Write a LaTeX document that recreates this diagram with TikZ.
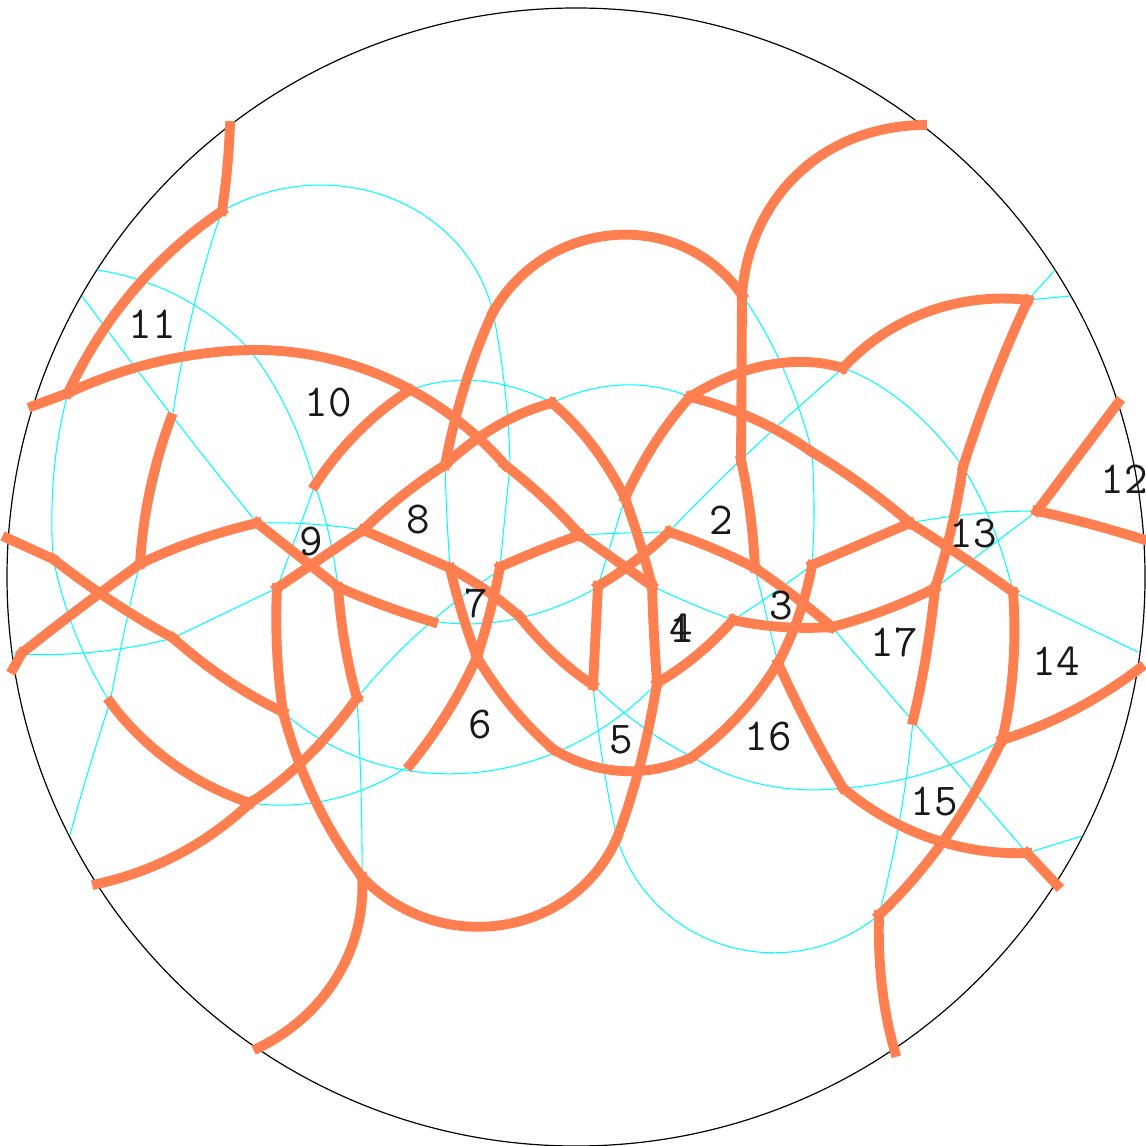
\documentclass[tikz,border=0pt]{standalone}
\usepackage{xcolor}
\usetikzlibrary{calc}
\definecolor{figarc}{RGB}{0,255,255}
\definecolor{figedge}{RGB}{255,127,80}
\tikzset{
  rim/.style    ={draw=black, line width=0.34pt},
  arc/.style    ={draw=figarc, line width=0.3pt},
  bound/.style  ={draw=figedge, line width=2.8pt, line cap=rect},
  cellnum/.style={font=\fontsize{13pt}{14pt}\ttfamily, text=black!90, inner sep=0pt},
}
% circular arc: style, start, point halfway along, end
\newcommand{\seg}[4]{
  \path #2 coordinate (sa) #3 coordinate (sm) #4 coordinate (sb);
  \coordinate (sd) at ($(sa)!.5!(sb)$);
  \draw[#1] let \p1=($(sm)-(sd)$), \p2=($(sb)-(sd)$),
    \n1={veclen(\x1,\y1)/veclen(\x2,\y2)}, \n2={2/3*(1-\n1*\n1)} in
    (sa) .. controls ($(sa)+\n2*(sd)-\n2*(sa)+1.3333*(sm)-1.3333*(sd)$)
    and ($(sb)+\n2*(sd)-\n2*(sb)+1.3333*(sm)-1.3333*(sd)$) .. (sb);
}

\begin{document}
\begin{tikzpicture}[x=0.01cm,y=-0.01cm]
  \useasboundingbox (0,0) rectangle (1146,1146);
  \draw[rim] (576,577) circle[radius=569];
  % thin arcs
  \seg{arc}{(222,211)}{(388,197)}{(493,312)}
  \seg{arc}{(493,312)}{(505,390)}{(510,465)}
  \draw[arc] (510,465) -- (500,567);
  \seg{arc}{(222,211)}{(193,310)}{(172,420)}
  \seg{arc}{(172,420)}{(155,490)}{(140,562)}
  \seg{arc}{(140,562)}{(124,633)}{(110,702)}
  \seg{arc}{(110,702)}{(88,772)}{(70,835)}
  \seg{arc}{(97,270)}{(180,297)}{(250,350)}
  \seg{arc}{(250,350)}{(288,412)}{(315,485)}
  \seg{arc}{(315,485)}{(329,535)}{(338,587)}
  \seg{arc}{(82,296)}{(170,413)}{(257,523)}
  \seg{arc}{(68,393)}{(54,472)}{(53,558)}
  \seg{arc}{(53,558)}{(76,635)}{(110,702)}
  \seg{arc}{(257,523)}{(310,524)}{(363,530)}
  \draw[arc] (315,485) -- (277,588);
  \draw[arc] (277,588) -- (173,638);
  \seg{arc}{(173,638)}{(95,652)}{(12,654)}
  \seg{arc}{(283,712)}{(470,773)}{(657,683)}
  \seg{arc}{(250,803)}{(333,799)}{(410,765)}
  \seg{arc}{(357,698)}{(361,790)}{(362,877)}
  \seg{arc}{(357,698)}{(424,628)}{(500,570)}
  \seg{arc}{(433,621)}{(515,619)}{(598,587)}
  \seg{arc}{(652,586)}{(692,604)}{(733,620)}
  \seg{arc}{(733,620)}{(772,594)}{(812,565)}
  \draw[arc] (935,588) -- (1037,511);
  \seg{arc}{(1037,511)}{(973,514)}{(910,523)}
  \seg{arc}{(843,368)}{(906,405)}{(963,467)}
  \seg{arc}{(963,467)}{(992,525)}{(1013,592)}
  \draw[arc] (1013,592) -- (1138,652);
  \draw[arc] (1028,300) -- (1055,270);
  \draw[arc] (1028,300) -- (1070,296);
  \seg{arc}{(843,368)}{(745,456)}{(669,532)}
  \seg{arc}{(669,532)}{(625,533)}{(580,535)}
  \draw[arc] (625,498) -- (598,586);
  \seg{arc}{(445,465)}{(447,518)}{(450,568)}
  \seg{arc}{(410,390)}{(480,381)}{(552,403)}
  \seg{arc}{(552,403)}{(622,385)}{(690,397)}
  \seg{arc}{(742,295)}{(783,368)}{(812,452)}
  \seg{arc}{(812,452)}{(814,510)}{(812,565)}
  \draw[arc] (755,568) -- (778,663);
  \seg{arc}{(832,627)}{(930,741)}{(1027,853)}
  \seg{arc}{(913,720)}{(900,818)}{(879,915)}
  \seg{arc}{(843,788)}{(926,773)}{(1002,740)}
  \seg{arc}{(593,685)}{(640,725)}{(692,757)}
  \seg{arc}{(692,757)}{(765,785)}{(843,788)}
  \seg{arc}{(593,685)}{(603,763)}{(617,838)}
  \seg{arc}{(617,838)}{(727,946)}{(879,915)}
  \draw[arc] (1027,853) -- (1082,836);
  % thick boundaries
  \seg{bound}{(230,126)}{(227,170)}{(222,211)}
  \seg{bound}{(222,211)}{(133,291)}{(68,393)}
  \draw[bound] (33,406) -- (68,393);
  \seg{bound}{(68,393)}{(157,362)}{(250,350)}
  \seg{bound}{(250,350)}{(389,379)}{(505,465)}
  \seg{bound}{(505,465)}{(545,499)}{(580,535)}
  \draw[bound] (580,535) -- (652,586);
  \seg{bound}{(625,498)}{(640,543)}{(652,586)}
  \seg{bound}{(652,586)}{(654,635)}{(657,683)}
  \seg{bound}{(657,683)}{(640,765)}{(617,838)}
  \seg{bound}{(617,838)}{(502,925)}{(362,877)}
  \seg{bound}{(362,877)}{(315,800)}{(283,712)}
  \seg{bound}{(283,712)}{(277,650)}{(277,588)}
  \draw[bound] (277,588) -- (363,530);
  \seg{bound}{(363,530)}{(403,495)}{(445,465)}
  \seg{bound}{(445,465)}{(497,426)}{(552,403)}
  \seg{bound}{(552,403)}{(592,445)}{(625,498)}
  \seg{bound}{(445,465)}{(465,385)}{(493,312)}
  \seg{bound}{(493,312)}{(615,235)}{(742,295)}
  \seg{bound}{(742,295)}{(762,222)}{(808,165)}
  \seg{bound}{(808,165)}{(860,136)}{(922,125)}
  \draw[bound] (742,295) -- (741,460);
  \seg{bound}{(741,460)}{(750,512)}{(755,568)}
  \seg{bound}{(625,498)}{(655,443)}{(690,397)}
  \seg{bound}{(690,397)}{(768,365)}{(843,368)}
  \seg{bound}{(843,368)}{(927,312)}{(1028,300)}
  \seg{bound}{(1028,300)}{(993,382)}{(963,467)}
  \seg{bound}{(963,467)}{(951,530)}{(935,588)}
  \seg{bound}{(935,588)}{(926,656)}{(913,720)}
  \seg{bound}{(690,397)}{(754,419)}{(812,452)}
  \seg{bound}{(812,452)}{(862,485)}{(910,523)}
  \seg{bound}{(910,523)}{(961,556)}{(1013,592)}
  \seg{bound}{(1013,592)}{(1013,668)}{(1002,740)}
  \seg{bound}{(1002,740)}{(1074,710)}{(1140,668)}
  \seg{bound}{(1002,740)}{(946,837)}{(879,915)}
  \seg{bound}{(879,915)}{(882,987)}{(895,1052)}
  \draw[bound] (1118,403) -- (1037,511);
  \seg{bound}{(1037,511)}{(1090,524)}{(1145,540)}
  \seg{bound}{(669,532)}{(712,548)}{(755,568)}
  \seg{bound}{(755,568)}{(795,597)}{(832,627)}
  \seg{bound}{(669,532)}{(635,561)}{(598,586)}
  \draw[bound] (598,586) -- (593,685);
  \seg{bound}{(593,685)}{(555,655)}{(520,617)}
  \seg{bound}{(520,617)}{(487,591)}{(450,568)}
  \draw[bound] (450,568) -- (363,530);
  \seg{bound}{(580,535)}{(540,550)}{(500,567)}
  \seg{bound}{(500,567)}{(490,612)}{(477,657)}
  \seg{bound}{(450,568)}{(462,613)}{(477,657)}
  \seg{bound}{(477,657)}{(512,707)}{(553,749)}
  \seg{bound}{(553,749)}{(622,771)}{(692,757)}
  \seg{bound}{(692,757)}{(740,714)}{(778,663)}
  \seg{bound}{(778,663)}{(799,615)}{(812,565)}
  \draw[bound] (812,565) -- (910,523);
  \seg{bound}{(477,657)}{(447,713)}{(410,765)}
  \seg{bound}{(657,683)}{(697,655)}{(733,620)}
  \seg{bound}{(733,620)}{(782,627)}{(832,627)}
  \seg{bound}{(832,627)}{(885,610)}{(935,588)}
  \seg{bound}{(778,663)}{(809,727)}{(843,788)}
  \seg{bound}{(843,788)}{(930,838)}{(1027,853)}
  \draw[bound] (1027,853) -- (1057,885);
  \seg{bound}{(433,622)}{(385,606)}{(338,587)}
  \draw[bound] (338,587) -- (257,523);
  \seg{bound}{(257,523)}{(195,541)}{(140,564)}
  \seg{bound}{(140,564)}{(150,490)}{(171,418)}
  \seg{bound}{(140,564)}{(80,608)}{(22,653)}
  \draw[bound] (22,653) -- (13,669);
  \seg{bound}{(338,587)}{(345,645)}{(357,698)}
  \seg{bound}{(357,698)}{(306,758)}{(250,803)}
  \seg{bound}{(250,803)}{(179,854)}{(97,884)}
  \seg{bound}{(250,803)}{(172,763)}{(110,702)}
  \draw[bound] (7,538) -- (53,559);
  \seg{bound}{(53,559)}{(113,602)}{(173,638)}
  \seg{bound}{(173,638)}{(227,680)}{(283,712)}
  \seg{bound}{(362,877)}{(337,977)}{(258,1048)}
  \seg{bound}{(315,485)}{(358,432)}{(410,390)}
  % cell numbers
  \node[cellnum] (n1) at (681,628) {1};
  \node[cellnum] (n2) at (721,520) {2};
  \node[cellnum] (n3) at (781,606) {3};
  \node[cellnum] (n4) at (681,628) {4};
  \node[cellnum] (n5) at (621,740) {5};
  \node[cellnum] (n6) at (480,725) {6};
  \node[cellnum] (n7) at (476,603) {7};
  \node[cellnum] (n8) at (418,520) {8};
  \node[cellnum] (n9) at (311,542) {9};
  \node[cellnum] (n10) at (328,403) {10};
  \node[cellnum] (n11) at (152,324) {11};
  \node[cellnum] (n12) at (1124,479) {12};
  \node[cellnum] (n13) at (973,534) {13};
  \node[cellnum] (n14) at (1056,661) {14};
  \node[cellnum] (n15) at (934,802) {15};
  \node[cellnum] (n16) at (768,737) {16};
  \node[cellnum] (n17) at (894,642) {17};
\end{tikzpicture}
\end{document}
